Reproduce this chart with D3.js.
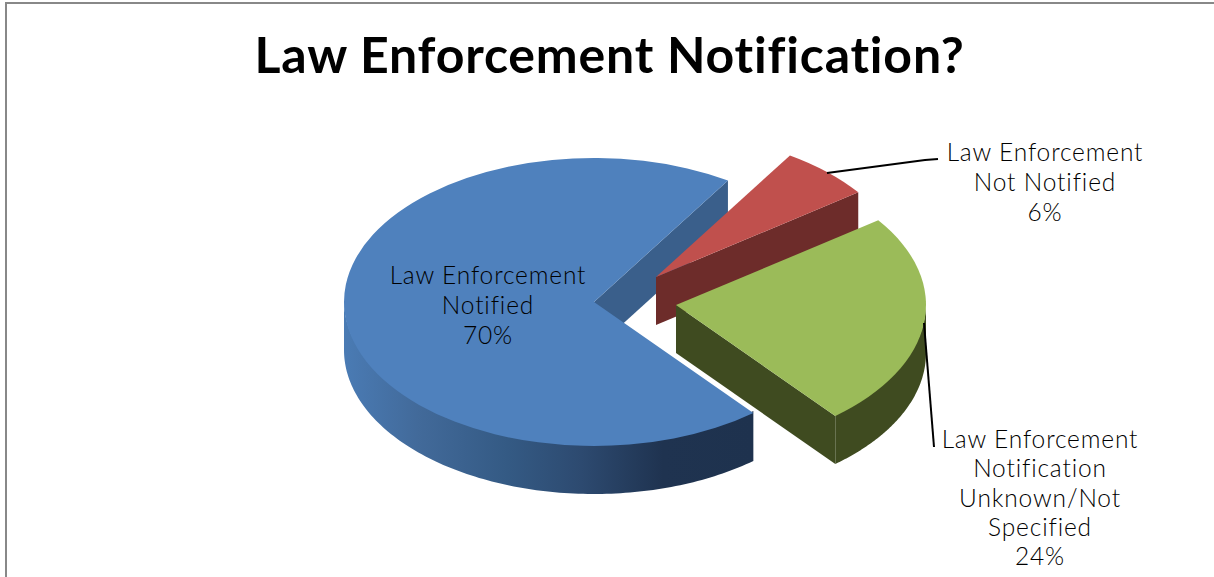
<!DOCTYPE html>
<html>
<head>
<meta charset="utf-8">
<title>Law Enforcement Notification?</title>
<script src="https://cdnjs.cloudflare.com/ajax/libs/d3/7.8.5/d3.min.js"></script>
<style>
  html, body { margin: 0; padding: 0; background: #fff; overflow: hidden; }
  svg { display: block; }
  text { font-family: Lato, "Open Sans", sans-serif; fill: #000; font-variant-ligatures: none; }
</style>
</head>
<body>
<svg id="chart" width="1214" height="577"></svg>
<script>
// Chart data
const chartTitle = "Law Enforcement Notification?";
const categoryLines = [
  ["Law Enforcement", "Notified"],
  ["Law Enforcement", "Not Notified"],
  ["Law Enforcement", "Notification", "Unknown/Not", "Specified"]
];
const shareValues = [70, 6, 24];

// Slice colours: top face, cut face, rim
const topColors = ["#4f81bd", "#c0504d", "#9bbb59"];
const cutColors = ["#3a5f8b", "#6d2c2a", "#3f4b20"];
const rimColors = ["url(#blueRim)", "#6d2c2a", "#3f4b20"];

// Tilted-disc geometry
const cx = 594, cy = 302, radius = 250, tilt = 0.576, depth = 48;
const firstAngle = 140.4 * Math.PI / 180;
const fullTurn = 2 * Math.PI;

// Exploded offset of each slice, and where its label sits
const sliceShift = [[0, 0], [62, -25], [82, 3]];
const labelSetup = [
  { x: 488, y: 284, gap: 29.8 },
  { x: 1045, y: 161, gap: 29.8 },
  { x: 1040, y: 448, gap: 29.3 }
];
const leaders = [
  null,
  [[827, 173], [925, 160], [938, 159]],
  [[924, 323], [934, 447]]
];

const svg = d3.select("#chart");

// Frame around the chart area
svg.append("rect")
  .attr("x", 6).attr("y", 3).attr("width", 1230).attr("height", 600)
  .attr("fill", "#fff").attr("stroke", "#888").attr("stroke-width", 2);

// Rim shading runs from lit blue on the left to deep navy on the right
const rimGradient = svg.append("defs").append("linearGradient")
  .attr("id", "blueRim").attr("gradientUnits", "userSpaceOnUse")
  .attr("x1", -radius).attr("x2", 159).attr("y1", 0).attr("y2", 0);
[[0, "#4a7bb4"], [0.18, "#426a9a"], [0.4, "#345a84"], [0.58, "#2d4a70"], [0.78, "#1f3350"], [1, "#1e324e"]]
  .forEach(([o, c]) => rimGradient.append("stop").attr("offset", o).attr("stop-color", c));

svg.append("text")
  .attr("x", 609.5).attr("y", 73)
  .attr("text-anchor", "middle")
  .style("font-size", "50px").style("font-weight", 700).style("letter-spacing", "0.8px")
  .text(chartTitle);

const pie = d3.pie().sort(null).value(d => d)
  .startAngle(firstAngle).endAngle(firstAngle + fullTurn);
const slices = pie(shareValues);

const topArc = d3.arc().innerRadius(0).outerRadius(radius);
const project = a => [radius * Math.sin(a), -radius * tilt * Math.cos(a)];
const line = d3.line();

slices.forEach((s, i) => {
  const g = svg.append("g")
    .attr("transform", `translate(${cx + sliceShift[i][0]},${cy + sliceShift[i][1]})`);

  // Each slice shows the cut face along its closing radius
  const [px, py] = project(s.endAngle);
  g.append("path")
    .attr("d", line([[0, 0], [px, py], [px, py + depth], [0, depth]]) + "Z")
    .attr("fill", cutColors[i]);

  // Front rim: the part of the arc that faces the viewer (a quarter to three quarters round).
  // Its upper edge tucks under the top face so no seam shows between them.
  const wrap = s.startAngle >= fullTurn ? fullTurn : 0;
  const rimStart = Math.max(s.startAngle - wrap, Math.PI / 2);
  const rimEnd = Math.min(s.endAngle - wrap, 1.5 * Math.PI);
  if (rimEnd > rimStart) {
    const edge = d3.range(0, 121)
      .map(t => project(rimStart + (rimEnd - rimStart) * t / 120));
    const upper = edge.map(([x, y]) => [x, y - 2]);
    const lower = edge.slice().reverse().map(([x, y]) => [x, y + depth]);
    g.append("path")
      .attr("d", line(upper.concat(lower)) + "Z")
      .attr("fill", rimColors[i]);
  }

  // Top face: a regular arc squashed into the tilted plane
  g.append("path")
    .attr("transform", `scale(1,${tilt})`)
    .attr("d", topArc({ startAngle: s.startAngle, endAngle: s.endAngle }))
    .attr("fill", topColors[i]);
});

// Leader lines
leaders.filter(Boolean).forEach(pts => {
  svg.append("path")
    .attr("d", line(pts))
    .attr("fill", "none").attr("stroke", "#000").attr("stroke-width", 2);
});

// Category labels with their percentages
categoryLines.forEach((lines, i) => {
  const { x, y, gap } = labelSetup[i];
  const t = svg.append("text")
    .attr("text-anchor", "middle")
    .style("font-size", "24.5px").style("font-weight", 300).style("letter-spacing", "0.85px");
  lines.concat(shareValues[i] + "%").forEach((txt, k) => {
    t.append("tspan").attr("x", x).attr("y", y + k * gap).text(txt);
  });
});
</script>
</body>
</html>
